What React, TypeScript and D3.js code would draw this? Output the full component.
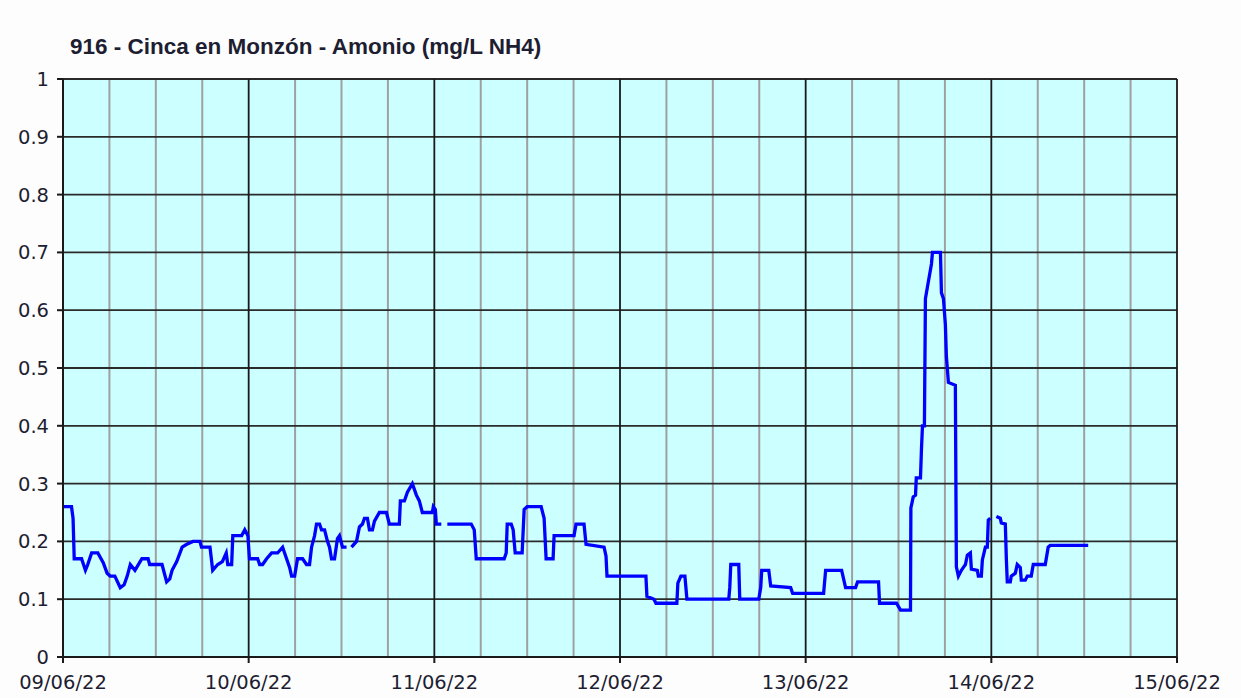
import React from "react";
import * as d3 from "d3";

const TITLE = "916 - Cinca en Monzón - Amonio (mg/L NH4)";
const START = new Date(2022, 5, 9, 0, 0);
const END = new Date(2022, 5, 15, 0, 0);
const yTicks = [0, 0.1, 0.2, 0.3, 0.4, 0.5, 0.6, 0.7, 0.8, 0.9, 1];

// hours since 09/06/22 00:00 ; null value = gap
const hours = [
  0, 1.1, 1.3, 1.45, 2.4, 2.9, 3.2, 3.7, 4.5, 5.2, 5.7, 6.1, 6.7, 7.4, 7.9, 8.3, 8.7, 9.3, 10.2, 11.0,
  11.2, 12.8, 13.4, 13.8, 14.1, 14.7, 15.4, 16.0, 16.8, 17.7, 17.9, 19.0, 19.35, 20.0, 20.6, 21.1, 21.3, 21.8, 21.95, 23.1,
  23.5, 23.9, 24.1, 25.16, 25.42, 25.8, 26.32, 26.97, 27.74, 28.39, 28.9, 29.29, 29.55, 29.94, 30.32, 30.97, 31.48, 31.87, 32.13, 32.52,
  32.77, 33.16, 33.42, 33.81, 34.19, 34.45, 34.71, 35.1, 35.48, 35.74, 36.13, 36.65, 37.0,
  37.29, 37.94, 38.32, 38.71, 38.97, 39.35, 39.61, 40.0, 40.26, 40.9, 41.81, 42.19, 43.48, 43.61, 44.13, 44.52, 45.16, 45.68, 46.06, 46.45,
  47.74, 47.87, 48.13, 48.26, 48.9, 49.3,
  49.68, 52.77, 53.16, 53.42, 57.03, 57.29, 57.42, 57.94, 58.19, 58.45, 59.35, 59.61, 60.0, 61.81, 62.19, 62.45, 63.35, 63.48, 66.06, 66.32,
  67.35, 67.61, 69.94, 70.19, 70.32, 75.35, 75.48, 76.39, 76.65, 79.35, 79.48, 79.87, 80.39, 80.65, 86.06, 86.19, 86.32, 87.35, 87.48, 89.94,
  90.19, 90.32, 91.23, 91.48, 94.06, 94.32, 98.32, 98.58, 100.65, 101.16, 102.45, 102.71, 105.42, 105.55, 107.74, 108.26, 109.55, 109.6, 109.8, 109.9,
  110.2, 110.3, 110.84, 110.97, 111.1, 111.35, 111.48, 111.74, 112.0, 112.26, 112.39, 112.77, 113.42, 113.55, 113.81, 114.06, 114.19, 114.45, 115.35, 115.48,
  115.74, 116.13, 116.39, 116.65, 116.9, 117.29, 117.42, 118.19, 118.32, 118.71, 118.84, 119.23, 119.48, 119.61, 119.87, 120.2,
  120.65, 121.16, 121.29, 121.81, 121.94, 122.06, 122.45, 122.58, 123.1, 123.35, 123.74, 123.87, 124.39, 124.65, 125.16, 125.42, 126.97, 127.35, 127.61, 132.52,
];
const values: (number | null)[] = [
  0.26, 0.26, 0.24, 0.17, 0.17, 0.15, 0.16, 0.18, 0.18, 0.163, 0.145, 0.14, 0.14, 0.12, 0.125, 0.14, 0.16, 0.15, 0.17, 0.17,
  0.16, 0.16, 0.13, 0.135, 0.15, 0.165, 0.19, 0.195, 0.2, 0.2, 0.19, 0.19, 0.15, 0.16, 0.165, 0.18, 0.16, 0.16, 0.21, 0.21,
  0.22, 0.21, 0.17, 0.17, 0.16, 0.16, 0.17, 0.18, 0.18, 0.19, 0.17, 0.155, 0.14, 0.14, 0.17, 0.17, 0.16, 0.16, 0.19, 0.21,
  0.23, 0.23, 0.22, 0.22, 0.2, 0.19, 0.17, 0.17, 0.205, 0.21, 0.19, 0.19, null,
  0.19, 0.2, 0.225, 0.23, 0.24, 0.24, 0.22, 0.22, 0.235, 0.25, 0.25, 0.23, 0.23, 0.27, 0.27, 0.285, 0.3, 0.28, 0.27, 0.25,
  0.25, 0.26, 0.255, 0.23, 0.23, null,
  0.23, 0.23, 0.22, 0.17, 0.17, 0.18, 0.23, 0.23, 0.22, 0.18, 0.18, 0.255, 0.26, 0.26, 0.24, 0.17, 0.17, 0.21, 0.21, 0.23,
  0.23, 0.195, 0.19, 0.175, 0.14, 0.14, 0.105, 0.1, 0.093, 0.093, 0.128, 0.14, 0.14, 0.1, 0.1, 0.12, 0.16, 0.16, 0.1, 0.1,
  0.12, 0.15, 0.15, 0.123, 0.12, 0.11, 0.11, 0.15, 0.15, 0.12, 0.12, 0.13, 0.13, 0.093, 0.093, 0.081, 0.081, 0.258, 0.27, 0.277,
  0.28, 0.31, 0.31, 0.36, 0.4, 0.4, 0.62, 0.64, 0.66, 0.68, 0.7, 0.7, 0.7, 0.63, 0.62, 0.575, 0.52, 0.475, 0.47, 0.156,
  0.14, 0.15, 0.155, 0.16, 0.176, 0.18, 0.152, 0.15, 0.14, 0.14, 0.168, 0.19, 0.19, 0.237, 0.24, null,
  0.243, 0.24, 0.232, 0.23, 0.17, 0.13, 0.13, 0.14, 0.145, 0.16, 0.155, 0.133, 0.133, 0.14, 0.14, 0.16, 0.16, 0.19, 0.193, 0.193,
];

const W = 1241;
const H = 698;
const M = { left: 63, right: 1177, top: 79, bottom: 657 };

export default function App() {
  const x = d3.scaleTime().domain([START, END]).range([M.left, M.right]);
  const y = d3.scaleLinear().domain([0, 1]).range([M.bottom, M.top]);
  const data = hours.map((h, i) => ({ t: START.getTime() + h * 3600000, v: values[i] }));
  const line = d3
    .line<{ t: number; v: number | null }>()
    .defined((d) => d.v !== null)
    .x((d) => x(new Date(d.t)))
    .y((d) => y(d.v as number));
  const minorTicks = d3.timeHour.every(6)!.range(START, d3.timeHour.offset(END, 1));
  const dayTicks = d3.timeDay.range(START, d3.timeHour.offset(END, 1));
  const fmt = d3.timeFormat("%d/%m/%y");
  const textColor = "#1e1e32";
  const font = "'DejaVu Sans', Verdana, sans-serif";
  return (
    <svg width={W} height={H} style={{ position: "absolute", left: 0, top: 0, background: "#fdfdfd" }}>
      <rect x={0} y={0} width={W} height={H} fill="#fdfdfd" />
      <text x={70} y={54} fontFamily="'Liberation Sans', Arial, sans-serif" fontWeight="bold" fontSize={22.5} fill={textColor}>
        {TITLE}
      </text>
      <rect x={M.left} y={M.top} width={M.right - M.left} height={M.bottom - M.top} fill="#ccffff" />
      {minorTicks.map((d, i) => {
        if (d.getHours() === 0) return null;
        return <line key={"g" + i} x1={x(d)} x2={x(d)} y1={M.top} y2={M.bottom} stroke="#a0a0a0" strokeWidth={2} />;
      })}
      {yTicks.map((v, i) => (
        <line key={"h" + i} x1={M.left} x2={M.right} y1={y(v)} y2={y(v)} stroke="#2a2a2a" strokeWidth={1.8} />
      ))}
      {dayTicks.map((d, i) => (
        <line key={"d" + i} x1={x(d)} x2={x(d)} y1={M.top} y2={M.bottom} stroke="#1a1a1a" strokeWidth={1.8} />
      ))}
      <path d={line(data as any) || ""} fill="none" stroke="#0000ff" strokeWidth={3.3} strokeLinejoin="miter" />
      <line x1={M.left} x2={M.left} y1={M.top} y2={M.bottom + 5} stroke="#1a1a1a" strokeWidth={2} />
      <line x1={M.left - 5} x2={M.right} y1={M.bottom} y2={M.bottom} stroke="#1a1a1a" strokeWidth={2} />
      {yTicks.map((v, i) => (
        <g key={"yt" + i}>
          <line x1={M.left - 6} x2={M.left} y1={y(v)} y2={y(v)} stroke="#1a1a1a" strokeWidth={2} />
          <text x={49} y={y(v) + 7} textAnchor="end" fontFamily={font} fontSize={19.5} fill={textColor}>
            {String(v)}
          </text>
        </g>
      ))}
      {dayTicks.map((d, i) => (
        <g key={"xt" + i}>
          <line x1={x(d)} x2={x(d)} y1={M.bottom} y2={M.bottom + 6} stroke="#1a1a1a" strokeWidth={2} />
          <text x={x(d)} y={689} textAnchor="middle" fontFamily={font} fontSize={19.5} fill={textColor}>
            {fmt(d)}
          </text>
        </g>
      ))}
    </svg>
  );
}
